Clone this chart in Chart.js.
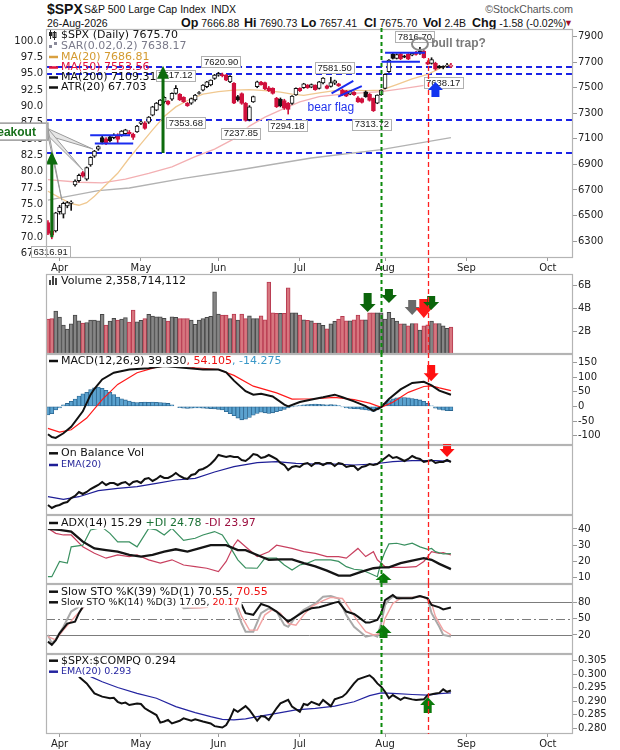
<!DOCTYPE html>
<html>
<head>
<meta charset="utf-8">
<title>$SPX daily</title>
<script src="https://cdn.jsdelivr.net/npm/chart.js@4.4.1/dist/chart.umd.min.js"></script>
<style>
  body { margin: 0; width: 620px; height: 750px; background: #fff; position: relative; overflow: hidden;
         font-family: "Liberation Sans", Arial, sans-serif; color: #111; }
  canvas { position: absolute; left: 0; }
  .hd { position: absolute; white-space: nowrap; line-height: 14px; }
  .hd b { font-size: 12.5px; }
</style>
</head>
<body>
<div class="hd" style="left:47px; top:1px; font-size:14px; line-height:16px; font-weight:bold;">$SPX</div>
<div class="hd" style="left:84px; top:2px; font-size:10.5px;">S&amp;P 500 Large Cap Index</div>
<div class="hd" style="left:211px; top:2px; font-size:10.5px;">INDX</div>
<div class="hd" style="right:47px; top:2px; font-size:10.5px; color:#555;">&copy;StockCharts.com</div>
<div class="hd" style="left:47px; top:16px; font-size:10.5px;">26-Aug-2026</div>
<div class="hd" style="left:181px; top:16px; font-size:10.5px;"><b>Op</b> 7666.88</div>
<div class="hd" style="left:244px; top:16px; font-size:10.5px;"><b>Hi</b> 7690.73</div>
<div class="hd" style="left:301px; top:16px; font-size:10.5px;"><b>Lo</b> 7657.41</div>
<div class="hd" style="left:364px; top:16px; font-size:10.5px;"><b>Cl</b> 7675.70</div>
<div class="hd" style="left:423px; top:16px; font-size:10.5px;"><b>Vol</b> 2.4B</div>
<div class="hd" style="left:472px; top:16px; font-size:10.5px;"><b>Chg</b> -1.58 (-0.02%)</div>
<div class="hd" style="left:564px; top:16px; font-size:9px; color:#a0102a;">&#9660;</div>

<canvas id="cMain" width="620" height="246" style="top:28px"></canvas>
<canvas id="cVol" width="620" height="82" style="top:273px"></canvas>
<canvas id="cMacd" width="620" height="93" style="top:353px"></canvas>
<canvas id="cObv" width="620" height="72" style="top:444px"></canvas>
<canvas id="cAdx" width="620" height="71" style="top:514px"></canvas>
<canvas id="cSto" width="620" height="72" style="top:583px"></canvas>
<canvas id="cRatio" width="620" height="97" style="top:653px"></canvas>

<script>
// ---------------- categories (trading days) ----------------
const holidays = ['2026-04-03', '2026-05-25', '2026-06-19', '2026-07-03', '2026-09-07'];
const monthNames = ['Jan', 'Feb', 'Mar', 'Apr', 'May', 'Jun', 'Jul', 'Aug', 'Sep', 'Oct', 'Nov', 'Dec'];

function buildTradingDays(start, count) {
    const out = [];
    const d = new Date(start + 'T00:00:00Z');
    while (out.length < count) {
        const iso = d.toISOString().slice(0, 10);
        const wd = d.getUTCDay();
        if (wd !== 0 && wd !== 6 && !holidays.includes(iso)) out.push(iso);
        d.setUTCDate(d.getUTCDate() + 1);
    }
    return out;
}
const days = buildTradingDays('2026-03-27', 136);   // axis runs on into early October
const monthStarts = days.map((d, i) => i).filter(i => i > 0 && days[i].slice(5, 7) !== days[i - 1].slice(5, 7));

// ---------------- price data ($SPX daily) ----------------
const opens = [6445,6380,6380,6530,6510,6575,6595,6740,6772,6835, 6785,6895,6965,7020,7110,7100,7115,7110,7130,7130,
    7140,7150,7135,7155,7220,7226,7230,7286,7325,7365, 7390,7395,7410,7456,7448,7425,7378,7380,7404,7455,
    7482,7508,7522,7574,7598,7600,7600,7545,7535,7430, 7455,7378,7250,7390,7508,7545,7540,7500,7495,7417,
    7410,7400,7378,7378,7443,7495,7500,7520,7505,7521, 7495,7537,7515,7510,7535,7530,7482,7475,7450,7465,
    7422,7415,7469,7450,7417,7380,7445,7495,7626,7762, 7730,7765,7745,7762,7755,7775,7790,7788,7700,7690,
    7692,7670,7665,7668,7666.88];
const highs = [6460,6400,6525,6580,6605,6610,6615,6780,6825,6845, 6880,6960,7010,7045,7125,7110,7125,7140,7140,7165,
    7175,7165,7145,7205,7240,7235,7275,7355,7385,7408, 7430,7400,7460,7517,7455,7430,7385,7420,7448,7470,
    7525,7550,7562,7605,7621,7615,7605,7595,7540,7440, 7460,7385,7360,7435,7552,7550,7545,7510,7500,7425,
    7420,7410,7385,7438,7500,7500,7535,7525,7530,7523, 7550,7580,7520,7582,7560,7535,7490,7480,7475,7470,
    7430,7420,7475,7455,7420,7445,7485,7610,7720,7775, 7765,7770,7755,7768,7775,7785,7817,7792,7712,7735,
    7700,7675,7672,7692,7690.73];
const lows = [6350,6317,6370,6510,6480,6560,6540,6730,6760,6800, 6775,6885,6955,7010,7060,7055,7075,7100,7070,7120,
    7135,7130,7095,7150,7210,7175,7220,7280,7320,7360, 7380,7365,7400,7450,7400,7385,7354,7370,7395,7450,
    7475,7500,7515,7565,7590,7585,7555,7540,7375,7395, 7370,7238,7240,7385,7500,7520,7485,7470,7450,7345,
    7350,7330,7294,7370,7440,7470,7495,7495,7500,7480, 7490,7530,7490,7505,7525,7510,7440,7430,7445,7440,
    7385,7380,7425,7395,7314,7375,7440,7490,7620,7725, 7725,7720,7735,7720,7750,7755,7760,7732,7680,7685,
    7638,7652,7648,7662,7657.41];
const closes = [6360,6345,6520,6565,6595,6600,6605,6770,6815,6808, 6875,6955,7005,7040,7072,7062,7085,7130,7095,7160,
    7170,7140,7112,7200,7234,7182,7270,7351,7380,7404, 7425,7372,7456,7495,7404,7390,7360,7415,7443,7462,
    7521,7547,7560,7600,7610,7595,7560,7590,7380,7405, 7378,7245,7351,7430,7547,7525,7490,7478,7456,7351,
    7360,7340,7330,7435,7495,7478,7530,7500,7525,7485, 7547,7576,7495,7540,7555,7515,7443,7435,7470,7445,
    7390,7385,7430,7400,7320,7443,7482,7605,7717,7730, 7760,7725,7740,7723,7770,7760,7770,7736,7685,7720,
    7645,7657,7660,7677.28,7675.70];

// moving averages, read at points along the lines: [day index, value]
const ma20Pts = [[0,6690],[3,6640],[6,6592],[8,6580],[10,6600],[12,6650],[15,6740],[18,6830],[21,6950],[24,7060],
    [27,7170],[30,7275],[33,7350],[36,7400],[40,7450],[44,7470],[48,7482],[52,7485],[56,7478],[60,7465],[63,7450],
    [66,7440],[70,7460],[74,7478],[78,7482],[82,7478],[86,7482],[90,7525],[94,7570],[98,7605],[101,7650],[104,7686.81]];
const ma50Pts = [[0,6780],[8,6760],[14,6755],[20,6785],[26,6830],[32,6880],[38,6960],[43,7020],[48,7100],[52,7200],
    [56,7270],[60,7325],[65,7390],[70,7430],[76,7450],[82,7462],[86,7470],[92,7495],[98,7522],[104,7553.56]];
const ma200Pts = [[0,6620],[13,6695],[21,6715],[35,6790],[50,6860],[68,6950],[86,7015],[104,7109.31]];

const priceTicks = [6300,6400,6500,6600,6700,6800,6900,7000,7100,7200,7300,7400,7500,7600,7700,7800,7900];
const leftTicks = [67.5,70,72.5,75,77.5,80,82.5,85,87.5,90,92.5,95,97.5,100];

// chart notes on the price panel
const levelLines = [7660, 7607, 7247, 6990];
const flagLines = [[10.9,7129,21.2,7129],[12.1,7064,22,7064],[73.2,7456,78.8,7553],[74.9,7430,81,7513],
    [87,7775,97.3,7775],[86.1,7704,96,7704]];
const priceTags = [['6316.91',0.7,6216],['7517.12',32.9,7597],['7353.68',35.6,7227],['7620.90',44.7,7703],
    ['7237.85',49.8,7145],['7294.18',61.8,7204],['7581.50',74,7659],['7313.72',83.6,7216],
    ['7816.70',94.7,7902],['7638.17',102,7542]];
const breakoutTargets = [[11.6,7020],[9,6855],[3.6,6619]];
const mainUpArrows = [[1,7000,6330],[29.7,7673,6990]];
const mainBlueArrow = [100,7545,7427];

// ---------------- volume (billions) ----------------
const volumes = [3.06,3.1,3.76,3.24,2.53,2.18,2.65,3.4,2.9,2.7, 2.76,2.97,2.97,2.9,3.47,2.53,2.88,3.12,2.97,3.06,
    3.18,2.8,3.85,2.82,2.95,3.1,3.47,3.32,3.25,3.25, 3.12,2.88,3.25,3.2,3.1,3.1,3.1,2.97,2.6,2.97,
    3.1,3.2,3.3,5.45,3.5,3.4,3.4,3.1,3.5,2.97, 3.5,3.1,3.35,3.1,3.1,3.35,3.0,6.3,3.6,3.55,
    3.55,3.55,5.8,3.6,3.6,3.4,3.0,2.95,2.9,2.7, 2.7,2.5,2.2,2.65,2.85,3.05,3.3,2.9,2.9,3.0,
    3.4,3.0,3.0,3.6,3.6,3.6,3.6,3.05,3.65,3.12, 2.88,2.65,2.65,2.47,2.67,2.67,2.09,2.47,2.55,2.88,
    2.67,2.67,2.47,2.24,2.36];
const volTicks = [2, 4, 6];
const volGreenArrows = [[82.5,3.67,5.34],[88,4.46,5.69],[98.9,3.85,5.07]];
const volGrayArrows = [[94,3.41,4.72]];
const volRedArrows = [[97,3.15,4.81]];

// ---------------- MACD(12,26,9) ----------------
const macdPts = [[0,-95],[1,-105],[2,-108],[4,-92],[6,-70],[9,-17],[11,40],[12,60],[14,92],[17,115],[21,126],[26,130],
    [30,138],[35,132],[40,126],[44,126],[46,116],[48,88],[51,52],[53,40],[55,43],[58,34],[61,6],[62,0],[65,15],
    [69,26],[71,31],[74,40],[76,31],[79,17],[82,1],[84,-15],[86,-3],[88,25],[91,58],[94,80],[97,84],[99,72],
    [101,54],[104,39.83]];
const signalPts = [[0,-75],[3,-88],[6,-80],[10,-40],[14,23],[18,75],[23,115],[28,134],[32,141],[38,132],[44,126],
    [48,106],[53,69],[59,46],[63,25],[69,26],[74,31],[79,23],[83,11],[86,-3],[89,14],[93,48],[97,68],[99,70],
    [101,63],[104,54.1]];
const histogram = [-29,-25,-12,-5,5,10,17,25,35,43, 48,57,63,66,62,55,48,40,32,26, 22,18,15,13,14,15,14,15,14,13,
    12,10,5,0,-4,-6,-7,-6,-5,-5, -6,-7,-8,-9,-10,-12,-18,-25,-32,-40, -46,-44,-38,-30,-24,-20,-22,-24,-22,-18,
    -15,-10,-5,-1,1,3,5,6,7,8, 7,6,5,6,5,3,-2,-5,-7,-8, -9,-10,-12,-14,-17,-12,0,10,20,26,
    29,30,30,29,27,25,22,17,10,2, -6,-10,-13,-15,-14.3];
const macdTicks = [-100, -50, 0, 50, 100, 150];
const macdDownArrow = [98.9, 85.6, 141];

// ---------------- On Balance Volume (relative units) ----------------
const obv = [10,7,9,10,12,13,17,19,23,21, 23,26,28,30,33,30,32,32,30,32, 33,30,33,34,32,36,37,34,36,39,
    37,37,39,42,39,37,36,40,41,45, 46,48,51,55,60,59,58,59,58,58, 55,54,57,61,60,57,58,60,58,56,
    52,50,45,48,49,48,51,52,49,52, 52,50,52,52,49,52,51,48,49,49, 45,48,49,51,50,51,54,57,60,57,
    58,56,54,56,59,57,56,53,54,55, 52,53,53,55,53];
const obvEmaPts = [[0,18.3],[4,15.7],[8,18.3],[13,24.3],[18,26.7],[23,28.3],[28,31.7],[33,35],[38,36.7],[43,43],
    [48,48.3],[54,52.3],[59,53.3],[64,51.7],[69,51],[74,51],[79,50],[84,51],[89,53.3],[94,54.3],[100,54.3],[104,53.7]];
const obvDownArrow = [103, 58, 74];

// ---------------- ADX(14) ----------------
const adxPts = [[0,40],[3,39.4],[6,38.4],[9,32.2],[12,28],[15,27],[18,26],[21,24],[24,23],[27,24],[30,26],[33,27.5],
    [36,26],[39,28],[42,30],[46,30],[49,27],[51,27],[54,24],[57,21],[60,21.3],[63,21.3],[66,19],[69,17],[72,14.3],
    [75,11.3],[78,11.3],[81,13.7],[84,15.8],[86,16.4],[88,16.4],[91,19],[94,20.5],[97,22],[99,21],[101,18.5],[104,15.29]];
const plusDiPts = [[0,10.6],[1,10.6],[3,20],[5,19],[6,29],[9,30],[11,39.4],[14,41],[16,37.3],[18,32],[21,32],[23,29],
    [26,40.4],[28,39.4],[30,36.3],[32,40.4],[35,33],[38,34.3],[40,36.3],[43,38.4],[45,36.3],[47,29],[49,21],[51,16],
    [54,15.8],[56,22],[59,22],[61,17.8],[63,14.7],[65,17.8],[67,19],[69,21],[71,21],[73,21],[75,20],[77,16.8],
    [79,15.2],[81,14.7],[83,12.7],[85,10.6],[86,20],[87,26],[88,30.8],[90,31.2],[92,30.1],[94,31.2],[96,29],
    [98,27.5],[99,28],[100,26],[102,24.6],[104,24.78]];
const minusDiPts = [[0,40.4],[2,37.3],[4,36.3],[6,36.3],[9,29],[12,25],[15,22],[18,24],[21,23],[23,24],[26,21],[29,19],
    [32,21],[35,17.8],[38,16.8],[41,15.8],[44,13.7],[46,20],[48,30],[49,33.2],[51,29],[54,23],[57,26],[59,30],
    [63,28],[66,26],[69,25],[72,23],[75,23],[77,22],[80,28],[82,23],[84,26],[85,21],[87,16.8],[89,16.4],[92,16.4],
    [95,16.8],[97,20],[98,23],[99,26],[101,25],[102,25.4],[104,23.97]];
const adxTicks = [10, 20, 30, 40];
const adxUpArrow = [86.6, 12.9, 4];

// ---------------- Slow stochastics ----------------
const k39Pts = [[0,7.8],[1,2],[2,10],[3,23],[5,41],[7,44.5],[8,60],[9,72],[11,88],[14,95],[20,96],[26,97],[32,98],
    [36,94],[40,96],[44,97],[47,92],[48,85],[50,75],[51,60],[53,57],[55,77],[57,72],[59,63],[61,50.6],[62,44.5],
    [64,53.7],[66,63],[68,69],[70,71],[72,75],[74,79.4],[75,81],[77,63],[79,58.6],[80,53.7],[82,42.7],[83,42.7],
    [85,47.6],[86,60],[87,84],[89,93.5],[90,87.3],[94,87.3],[96,91.6],[98,87.3],[99,75],[101,70.8],[102,67],[104,70.55]];
const k14Pts = [[0,20],[1,4.7],[2,12],[4,35],[6,63],[8,72],[9,78],[11,90],[14,95],[18,88],[22,92],[26,96],[30,95],
    [33,85],[35,69],[37,70],[39,71],[41,72],[43,88],[45,95],[47,92],[48,80],[50,41],[51,26],[53,26],[55,60],[57,69],
    [59,63],[61,38.4],[62,35],[64,53.7],[66,66],[69,78],[71,90.4],[73,91.6],[75,87],[77,56.7],[79,35],[81,23],
    [82,17],[84,20],[85,17],[86,41.4],[87,75],[88,85],[89,90.4],[91,89],[94,89],[96,91.6],[98,87],[99,60],[101,35],
    [102,20],[104,17.05]];
const d3Pts = [[0,17],[2,11],[4,29],[7,54],[9,69],[11,82],[14,92],[18,90],[22,91],[26,94],[30,95],[33,90],[35,76],
    [37,70],[39,70],[41,71],[43,80],[45,91],[48,90],[50,54],[52,29],[54,29],[56,57],[58,67],[60,60],[62,41],[64,38],
    [66,57],[68,72],[71,83],[73,89],[76,87],[78,66],[80,44.5],[82,26],[84,20],[86,23],[87,50.6],[89,78],[91,87],
    [94,89],[97,90.4],[99,78],[100,54],[102,29],[104,20.17]];
const stoTicks = [20, 50, 80];
const stoUpArrow = [86.6, 38.2, 14.3];

// ---------------- $SPX:$COMPQ ratio ----------------
const ratioPts = [[8,0.2991],[10,0.2966],[12,0.2929],[14,0.2917],[16,0.2911],[17,0.2913],[18,0.2898],[19,0.2892],
    [20,0.2895],[21,0.2886],[23,0.2892],[24,0.2890],[25,0.2874],[26,0.2865],[28,0.2849],[29,0.2821],[30,0.2825],
    [31,0.2831],[32,0.2818],[34,0.2828],[35,0.2837],[37,0.2828],[38,0.2833],[40,0.2825],[42,0.2818],[43,0.2808],
    [45,0.2803],[46,0.2812],[47,0.2837],[48,0.2870],[49,0.2861],[51,0.2882],[52,0.2868],[54,0.2828],[55,0.2845],
    [56,0.2843],[57,0.2831],[59,0.2874],[60,0.2892],[62,0.2905],[63,0.2880],[65,0.2861],[66,0.2890],[67,0.2886],
    [68,0.2898],[70,0.2886],[71,0.2905],[73,0.2882],[74,0.2907],[76,0.2917],[77,0.2929],[79,0.2966],[80,0.2981],
    [82,0.2991],[83,0.2996],[84,0.2984],[85,0.2966],[86,0.2954],[87,0.2935],[88,0.2911],[89,0.2923],[91,0.2905],
    [92,0.2914],[94,0.2907],[95,0.2905],[97,0.2907],[98,0.2923],[100,0.2929],[101,0.2931],[102,0.2944],[103,0.2935],
    [104,0.294]];
const ratioEmaPts = [[11,0.2991],[14,0.2972],[18,0.2951],[23,0.2929],[28,0.2911],[33,0.2880],[38,0.2858],[42,0.2843],
    [45,0.2833],[48,0.2831],[51,0.2835],[54,0.2843],[59,0.2855],[64,0.2868],[69,0.2874],[74,0.2882],[79,0.2898],
    [83,0.2921],[86,0.2931],[89,0.2929],[94,0.2925],[98,0.2923],[101,0.2928],[104,0.2931]];
const ratioTicks = [0.280, 0.285, 0.290, 0.295, 0.300, 0.305];
const ratioUpArrow = [98, 0.29156, 0.28563];

// vertical marker days (Jul 31 breakout, Aug 18 reversal)
const greenMarkDay = 86;
const redMarkDay = 98;

// ---------------- helpers ----------------
const FONT = "'DejaVu Sans', Verdana, sans-serif";
const TAGFONT = "'Liberation Sans', Arial, sans-serif";
const RED = '#d0103c';
Chart.defaults.font.family = FONT;

function pts(list) {
    return list.map(([i, v]) => ({ x: days[i], y: v }));
}

function lineSet(list, color, width, order) {
    return { type: 'line', data: pts(list), borderColor: color, borderWidth: width, pointRadius: 0,
             fill: false, tension: 0, order: order, yAxisID: 'y' };
}

function xScale(show) {
    return {
        type: 'category',
        offset: true,
        display: show,
        grid: { display: true, drawOnChartArea: false, drawTicks: true, tickLength: 3, color: '#9a9a9a', offset: false },
        border: { display: false },
        ticks: { autoSkip: false, maxRotation: 0, minRotation: 0, padding: 1, color: '#222',
                 font: { family: FONT, size: 10 },
                 callback: v => monthNames[Number(days[v].slice(5, 7)) - 1] },
        afterBuildTicks: s => { s.ticks = s.ticks.filter(t => monthStarts.includes(t.value)); },
        // fixed strip height; no side padding so the plot keeps its exact width
        afterFit: s => { s.height = show ? 16 : 0; s.paddingLeft = 0; s.paddingRight = 0; }
    };
}

function yRight(min, max, list, fmt) {
    return {
        position: 'right', min: min, max: max,
        grid: { drawOnChartArea: false, drawTicks: true, tickLength: 4, color: '#9a9a9a' },
        border: { display: false },
        ticks: { padding: 1, color: '#222', font: { family: FONT, size: 10 }, callback: fmt },
        afterBuildTicks: s => { s.ticks = list.map(v => ({ value: v })); },
        afterFit: s => { s.width = 47; s.paddingTop = 0; s.paddingBottom = 0; }
    };
}

function baseOptions(yCfg, showX, extra) {
    const scales = Object.assign({ x: xScale(showX), y: yCfg }, extra || {});
    return {
        responsive: false, animation: false, events: [],
        layout: { padding: { left: extra ? 0 : 46, right: 0, top: 1, bottom: showX ? 0 : 1 } },
        plugins: { legend: { display: false }, tooltip: { enabled: false } },
        scales: scales
    };
}

// arrow with tip at yTip and tail at yTail (works for up and down)
function arrow(ctx, x, yTip, yTail, shaftW, headW, headH, color) {
    const dir = yTail > yTip ? 1 : -1;
    const yh = yTip + dir * headH;
    ctx.fillStyle = color;
    ctx.beginPath();
    ctx.moveTo(x, yTip);
    ctx.lineTo(x + headW / 2, yh);
    ctx.lineTo(x + shaftW / 2, yh);
    ctx.lineTo(x + shaftW / 2, yTail);
    ctx.lineTo(x - shaftW / 2, yTail);
    ctx.lineTo(x - shaftW / 2, yh);
    ctx.lineTo(x - headW / 2, yh);
    ctx.closePath();
    ctx.fill();
}

function drawArrows(chart, list, color, shaftW, headW, headH) {
    const { ctx, scales: { x, y } } = chart;
    list.forEach(([i, tip, tail]) => arrow(ctx, x.getPixelForValue(i), y.getPixelForValue(tip), y.getPixelForValue(tail), shaftW, headW, headH, color));
}

function drawIcon(ctx, icon, x, y) {
    ctx.save();
    if (icon === 'candle') {
        ctx.strokeStyle = '#222'; ctx.fillStyle = '#222'; ctx.lineWidth = 1;
        ctx.beginPath(); ctx.moveTo(x + 1.5, y - 5); ctx.lineTo(x + 1.5, y + 4); ctx.moveTo(x + 5.5, y - 4); ctx.lineTo(x + 5.5, y + 5); ctx.stroke();
        ctx.fillRect(x, y - 3, 3, 4); ctx.strokeRect(x + 4, y - 2.5, 3, 5);
    } else if (icon === 'sar') {
        ctx.fillStyle = '#8a8a9a';
        ctx.fillRect(x, y - 1, 3, 3); ctx.fillRect(x + 5, y - 4, 3, 3);
    } else if (icon === 'vol') {
        ctx.fillStyle = '#444';
        ctx.fillRect(x, y - 1, 2, 5); ctx.fillRect(x + 3, y - 5, 2, 9); ctx.fillRect(x + 6, y - 3, 2, 7);
    } else {
        ctx.strokeStyle = icon; ctx.lineWidth = 2.5;
        ctx.beginPath(); ctx.moveTo(x, y); ctx.lineTo(x + 9, y); ctx.stroke();
    }
    ctx.restore();
}

// legend rows drawn inside a panel; withBg hides the lines under the text like the original
function drawLegend(chart, rows, withBg) {
    const { ctx, chartArea: a } = chart;
    ctx.save();
    ctx.textBaseline = 'middle';
    ctx.textAlign = 'left';
    rows.forEach(r => {
        const y = a.top + r.dy;
        ctx.font = r.size + 'px ' + FONT;
        const w = r.parts.reduce((s, p) => s + ctx.measureText(p[0]).width, 0);
        if (withBg) {
            ctx.fillStyle = '#fff';
            ctx.fillRect(a.left + 1, y - r.size * 0.55, w + 16, r.size * 1.1);
        }
        drawIcon(ctx, r.icon, a.left + 3, y);
        let x = a.left + 15;
        r.parts.forEach(([t, c]) => { ctx.fillStyle = c; ctx.fillText(t, x, y); x += ctx.measureText(t).width; });
    });
    ctx.restore();
}

// panel decorations: border, dashed day markers, legend, extra drawings
function decor(spec) {
    return {
        id: 'decor',
        beforeDatasetsDraw(chart) {
            if (spec.under) spec.under(chart);
        },
        afterDatasetsDraw(chart) {
            if (spec.over) spec.over(chart);
            if (spec.legend) drawLegend(chart, spec.legend, spec.legendBg);
        },
        afterDraw(chart) {
            const { ctx, chartArea: a, scales: { x, y } } = chart;
            ctx.save();
            ctx.strokeStyle = '#b4b4b4';
            ctx.lineWidth = 1.2;
            ctx.strokeRect(a.left + 0.5, a.top + 0.5, a.right - a.left - 1, a.bottom - a.top - 1);
            const bottom = spec.markToArea ? a.bottom : chart.height;
            const gx = Math.round(x.getPixelForValue(greenMarkDay)) + 0.5;
            const rx = Math.round(x.getPixelForValue(redMarkDay)) + 0.5;
            ctx.strokeStyle = '#0c8a0c'; ctx.lineWidth = 2; ctx.setLineDash([4, 3]);
            ctx.beginPath(); ctx.moveTo(gx, spec.greenTop != null ? y.getPixelForValue(spec.greenTop) : 0); ctx.lineTo(gx, bottom); ctx.stroke();
            ctx.strokeStyle = '#ff2020'; ctx.lineWidth = 1.3; ctx.setLineDash([5, 3]);
            ctx.beginPath(); ctx.moveTo(rx, spec.redTop != null ? y.getPixelForValue(spec.redTop) : 0); ctx.lineTo(rx, bottom); ctx.stroke();
            ctx.restore();
        }
    };
}

function tagBox(ctx, text, cx, cy) {
    ctx.font = '9.5px ' + TAGFONT;
    const w = ctx.measureText(text).width + 5, h = 11;
    ctx.fillStyle = '#fff';
    ctx.fillRect(cx - w / 2, cy - h / 2, w, h);
    ctx.strokeStyle = '#b0b0b0'; ctx.lineWidth = 1;
    ctx.strokeRect(Math.round(cx - w / 2) + 0.5, Math.round(cy - h / 2) + 0.5, Math.round(w), h);
    ctx.fillStyle = '#222'; ctx.textAlign = 'center'; ctx.textBaseline = 'middle';
    ctx.fillText(text, cx, cy + 0.5);
}

// ---------------- main price panel ----------------
const candleEdge = closes.map((c, i) => (i > 0 && c >= closes[i - 1]) ? '#111' : RED);
const candleFill = closes.map((c, i) => c >= opens[i] ? '#fff' : candleEdge[i]);

function drawMainUnder(chart) {
    const { ctx, chartArea: a, scales: { y } } = chart;
    ctx.save();
    ctx.strokeStyle = '#1a22e6'; ctx.lineWidth = 2; ctx.setLineDash([6, 4]);
    levelLines.forEach(p => {
        const yy = Math.round(y.getPixelForValue(p));
        ctx.beginPath(); ctx.moveTo(a.left, yy); ctx.lineTo(a.right, yy); ctx.stroke();
    });
    ctx.restore();
}

function drawMainOver(chart) {
    const { ctx, scales: { x, y } } = chart;
    const X = i => x.getPixelForValue(i), Y = v => y.getPixelForValue(v);
    ctx.save();
    // flag and consolidation lines
    ctx.strokeStyle = '#1a2cf0'; ctx.lineWidth = 2;
    flagLines.forEach(([i1, p1, i2, p2]) => { ctx.beginPath(); ctx.moveTo(X(i1), Y(p1)); ctx.lineTo(X(i2), Y(p2)); ctx.stroke(); });
    // price tags
    priceTags.forEach(([t, i, p]) => tagBox(ctx, t, X(i), Y(p)));
    // "Breakout" callout, cut by the left edge
    const bRight = X(0), bTop = Y(7223), bBot = Y(7090), bMid = (bTop + bBot) / 2;
    breakoutTargets.forEach(([i, p]) => {
        ctx.fillStyle = '#e6e6e6'; ctx.strokeStyle = '#9a9a9a'; ctx.lineWidth = 1;
        ctx.beginPath(); ctx.moveTo(bRight, bMid - 3); ctx.lineTo(X(i), Y(p)); ctx.lineTo(bRight, bMid + 4); ctx.closePath();
        ctx.fill(); ctx.stroke();
    });
    ctx.fillStyle = '#fff'; ctx.strokeStyle = '#9a9a9a'; ctx.lineWidth = 1.5;
    ctx.fillRect(-2, bTop, bRight + 2, bBot - bTop); ctx.strokeRect(-2, bTop, bRight + 2, bBot - bTop);
    ctx.font = 'bold 12px ' + TAGFONT; ctx.fillStyle = '#17701a'; ctx.textAlign = 'right'; ctx.textBaseline = 'middle';
    ctx.fillText('Breakout', bRight - 12, bMid + 1);
    // arrows
    drawArrows(chart, mainUpArrows, '#0d6b0d', 3, 12, 13);
    drawArrows(chart, [mainBlueArrow], '#1234f0', 8, 15, 8);
    // text notes
    ctx.font = '12px ' + TAGFONT; ctx.fillStyle = '#2233ee'; ctx.textAlign = 'center';
    ctx.fillText('bear flag', X(73), Y(7344));
    ctx.strokeStyle = '#8a8a8a'; ctx.lineWidth = 2;
    ctx.beginPath(); ctx.ellipse(X(96), Y(7843), 8, 6, 0, 0, Math.PI * 2); ctx.stroke();
    ctx.font = 'bold 12px ' + TAGFONT; ctx.fillStyle = '#7a7a7a'; ctx.textAlign = 'left';
    ctx.fillText('bull trap?', X(98.9), Y(7843));
    ctx.restore();
}

new Chart(document.getElementById('cMain'), {
    type: 'bar',
    data: {
        labels: days,
        datasets: [
            { data: opens.map((o, i) => [o, closes[i]]), backgroundColor: candleFill, borderColor: candleEdge,
              borderWidth: 1, borderSkipped: false, barThickness: 4, minBarLength: 1, grouped: false, order: 1, yAxisID: 'y' },
            { data: lows.map((l, i) => [l, highs[i]]), backgroundColor: candleEdge, borderWidth: 0,
              barThickness: 1, grouped: false, order: 2, yAxisID: 'y' },
            lineSet(ma20Pts, '#f0c890', 1.3, 3),
            lineSet(ma50Pts, '#f3b0b3', 1.3, 3),
            lineSet(ma200Pts, '#b2b2b2', 1.3, 3)
        ]
    },
    options: baseOptions(yRight(6167, 7960, priceTicks, v => String(v)), true, {
        yl: {
            position: 'left', min: 66.77, max: 101.84,
            grid: { display: false, drawTicks: false }, border: { display: false },
            ticks: { padding: 3, color: '#222', font: { family: FONT, size: 10 }, callback: v => v.toFixed(1) },
            afterBuildTicks: s => { s.ticks = leftTicks.map(v => ({ value: v })); },
            afterFit: s => { s.width = 46; s.paddingTop = 0; s.paddingBottom = 0; }
        }
    }),
    plugins: [decor({
        under: drawMainUnder,
        over: drawMainOver,
        redTop: 7733,
        legend: [
            { dy: 6, size: 11, icon: 'candle', parts: [['$SPX (Daily) 7675.70', '#111']] },
            { dy: 17, size: 11, icon: 'sar', parts: [['SAR(0.02,0.2) 7638.17', '#7a7a8a']] },
            { dy: 28, size: 11, icon: '#d9a040', parts: [['MA(20) 7686.81', '#d49a30']] },
            { dy: 38.5, size: 11, icon: '#e0103a', parts: [['MA(50) 7553.56', '#e0103a']] },
            { dy: 48.5, size: 11, icon: '#111', parts: [['MA(200) 7109.31', '#111']] },
            { dy: 58.5, size: 11, icon: '#111', parts: [['ATR(20) 67.703', '#111']] }
        ]
    })]
});

// ---------------- volume ----------------
const volEdge = closes.map((c, i) => (i > 0 && c >= closes[i - 1]) ? '#474747' : '#b83a50');
const volFill = closes.map((c, i) => (i > 0 && c >= closes[i - 1]) ? '#868686' : '#d7767f');

new Chart(document.getElementById('cVol'), {
    type: 'bar',
    data: { labels: days, datasets: [{ data: volumes, backgroundColor: volFill, borderColor: volEdge, borderWidth: 1,
        borderSkipped: false, barPercentage: 1, categoryPercentage: 1 }] },
    options: baseOptions(yRight(0, 7, volTicks, v => v + 'B'), false),
    plugins: [decor({
        over: chart => {
            drawArrows(chart, volGrayArrows, '#6a6a6a', 8, 15, 8);
            drawArrows(chart, volRedArrows, '#ff1a1a', 9, 17, 10);
            drawArrows(chart, volGreenArrows, '#0b650b', 8, 16, 8);
        },
        legend: [{ dy: 7, size: 11, icon: 'vol', parts: [['Volume 2,358,714,112', '#111']] }],
        legendBg: true
    })]
});

// ---------------- MACD ----------------
new Chart(document.getElementById('cMacd'), {
    type: 'bar',
    data: { labels: days, datasets: [
        lineSet(macdPts, '#111', 2, 1),
        lineSet(signalPts, '#ff1a1a', 1.2, 2),
        { data: histogram, backgroundColor: '#5aa2cf', borderColor: '#2a6590', borderWidth: 0.8, borderSkipped: false,
          barPercentage: 1, categoryPercentage: 1, order: 3, yAxisID: 'y' }
    ] },
    options: baseOptions(yRight(-132, 179, macdTicks, v => String(v)), false),
    plugins: [decor({
        over: chart => drawArrows(chart, [macdDownArrow], '#ff1010', 8, 15, 8),
        legend: [{ dy: 7, size: 11, icon: '#111', parts: [['MACD(12,26,9) 39.830', '#111'], [', 54.105', '#ee1010'], [', -14.275', '#3a98c8']] }],
        legendBg: true
    })]
});

// ---------------- On Balance Volume ----------------
new Chart(document.getElementById('cObv'), {
    type: 'line',
    data: { labels: days, datasets: [
        { data: obv, borderColor: '#111', borderWidth: 2, pointRadius: 0, tension: 0, order: 1 },
        lineSet(obvEmaPts, '#1e1e96', 1.2, 2)
    ] },
    options: baseOptions(yRight(0, 70, [], v => String(v)), false),
    plugins: [decor({
        over: chart => drawArrows(chart, [obvDownArrow], '#ff1010', 8, 15, 8),
        legend: [
            { dy: 8.3, size: 11, icon: '#111', parts: [['On Balance Vol', '#111']] },
            { dy: 20, size: 9.5, icon: '#1e1e96', parts: [['EMA(20)', '#1e1e96']] }
        ],
        legendBg: true
    })]
});

// ---------------- ADX ----------------
new Chart(document.getElementById('cAdx'), {
    type: 'line',
    data: { labels: days, datasets: [
        lineSet(adxPts, '#151515', 2.3, 1),
        lineSet(plusDiPts, '#3a9060', 1.2, 2),
        lineSet(minusDiPts, '#c8405f', 1.2, 2)
    ] },
    options: baseOptions(yRight(6.1, 48.6, adxTicks, v => String(v)), false),
    plugins: [decor({
        over: chart => drawArrows(chart, [adxUpArrow], '#0b7a0b', 8, 16, 7),
        legend: [{ dy: 8, size: 11, icon: '#111', parts: [['ADX(14) 15.29 ', '#111'], ['+DI 24.78 ', '#1b7035'], ['-DI 23.97', '#9c1040']] }],
        legendBg: true
    })]
});

// ---------------- Slow STO ----------------
function drawStoLevels(chart) {
    const { ctx, chartArea: a, scales: { y } } = chart;
    ctx.save();
    ctx.strokeStyle = '#7c7c7c'; ctx.lineWidth = 1;
    stoTicks.forEach(v => {
        const yy = Math.round(y.getPixelForValue(v)) + 0.5;
        ctx.setLineDash(v === 50 ? [9, 3, 2, 3] : []);
        ctx.beginPath(); ctx.moveTo(a.left, yy); ctx.lineTo(a.right, yy); ctx.stroke();
    });
    ctx.restore();
}

new Chart(document.getElementById('cSto'), {
    type: 'line',
    data: { labels: days, datasets: [
        lineSet(k39Pts, '#111', 2, 1),
        lineSet(d3Pts, '#f2a2a2', 1.4, 2),
        lineSet(k14Pts, '#a9a9a9', 2, 3)
    ] },
    options: baseOptions(yRight(-14.9, 113.6, stoTicks, v => String(v)), false),
    plugins: [decor({
        under: drawStoLevels,
        over: chart => drawArrows(chart, [stoUpArrow], '#0b7a0b', 8, 16, 8),
        legend: [
            { dy: 7.7, size: 11, icon: '#111', parts: [['Slow STO %K(39) %D(1) 70.55, ', '#111'], ['70.55', '#ee1010']] },
            { dy: 18.3, size: 9.5, icon: '#111', parts: [['Slow STO %K(14) %D(3) 17.05, ', '#111'], ['20.17', '#ee1010']] }
        ],
        legendBg: true
    })]
});

// ---------------- $SPX:$COMPQ ----------------
new Chart(document.getElementById('cRatio'), {
    type: 'line',
    data: { labels: days, datasets: [
        lineSet(ratioPts, '#111', 2, 1),
        lineSet(ratioEmaPts, '#2424a0', 1.2, 2)
    ] },
    options: baseOptions(yRight(0.27789, 0.30748, ratioTicks, v => v.toFixed(3)), true),
    plugins: [decor({
        markToArea: true,
        over: chart => drawArrows(chart, [ratioUpArrow], '#0b7a0b', 8, 15, 8),
        legend: [
            { dy: 6.7, size: 11, icon: '#111', parts: [['$SPX:$COMPQ 0.294', '#111']] },
            { dy: 17.7, size: 9.5, icon: '#2424a0', parts: [['EMA(20) 0.293', '#2424a0']] }
        ],
        legendBg: true
    })]
});
</script>
</body>
</html>
